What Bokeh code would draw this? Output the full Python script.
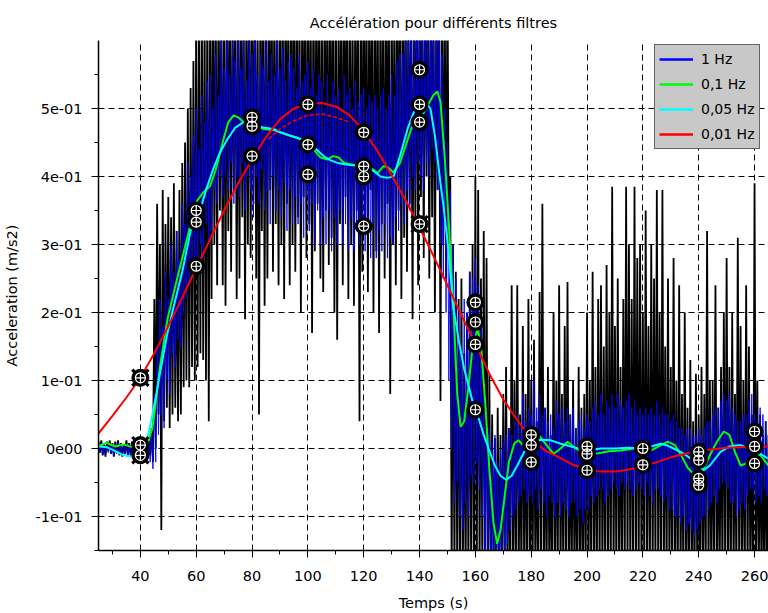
from bokeh.plotting import figure
from bokeh.models import FixedTicker, Range1d
from bokeh.embed import file_html
from bokeh.resources import INLINE

FONT = "DejaVu Sans"

# ---- raw signal and 1 Hz filtered signal, two samples per second from t=25 s ----
t_raw = [25 + 0.5 * i for i in range(481)]
raw = [
    0.010, -0.006, 0.012, -0.010, 0.006, -0.012, 0.010, -0.004, 0.012, -0.008,
    0.008, -0.012, 0.010, -0.006, 0.012, -0.010, 0.008, -0.012, 0.006, -0.008,
    0.012, -0.010, 0.008, -0.012, 0.010, -0.006, 0.012, -0.010, 0.008, -0.012,
    0.010, -0.008, 0.012, -0.010, 0.006, -0.014, 0.012, -0.010, 0.030, -0.020,
    0.22, 0.00, 0.36, 0.05, 0.30, -0.12, 0.38, 0.04, 0.33, 0.06,
    0.37, 0.03, 0.34, 0.05, 0.39, 0.06, 0.32, 0.04, 0.38, 0.05,
    0.42, 0.09, 0.45, 0.10, 0.50, 0.09, 0.53, 0.12, 0.57, 0.10,
    0.66, 0.12, 0.62, 0.14, 0.68, 0.13, 0.65, 0.10, 0.70, 0.04,
    0.68, 0.22, 0.72, 0.30, 0.66, 0.24, 0.70, 0.35, 0.66, 0.24,
    0.70, 0.21, 0.68, 0.32, 0.72, 0.26, 0.66, 0.38, 0.70, 0.22,
    0.68, 0.25, 0.72, 0.34, 0.66, 0.19, 0.70, 0.30, 0.72, 0.28,
    0.68, 0.36, 0.70, 0.25, 0.66, 0.05, 0.72, 0.32, 0.69, 0.21,
    0.70, 0.25, 0.66, 0.38, 0.72, 0.26, 0.68, 0.33, 0.65, 0.24,
    0.70, 0.30, 0.68, 0.22, 0.72, 0.36, 0.66, 0.24, 0.70, 0.30,
    0.72, 0.26, 0.68, 0.34, 0.66, 0.20, 0.70, 0.37, 0.68, 0.28,
    0.70, 0.33, 0.68, 0.17, 0.72, 0.29, 0.66, 0.36, 0.71, 0.25,
    0.66, 0.23, 0.70, 0.35, 0.68, 0.27, 0.72, 0.31, 0.68, 0.20,
    0.70, 0.16, 0.66, 0.33, 0.72, 0.24, 0.69, 0.37, 0.70, 0.22,
    0.68, 0.30, 0.66, 0.21, 0.70, 0.35, 0.68, 0.04, 0.70, 0.26,
    0.72, 0.32, 0.68, 0.23, 0.70, 0.38, 0.66, 0.20, 0.72, 0.29,
    0.69, 0.17, 0.70, 0.33, 0.66, 0.25, 0.70, 0.36, 0.68, 0.08,
    0.70, 0.30, 0.66, 0.24, 0.72, 0.35, 0.68, 0.22, 0.70, 0.31,
    0.71, 0.26, 0.68, 0.36, 0.66, 0.19, 0.70, 0.33, 0.72, 0.24,
    0.72, 0.37, 0.68, 0.28, 0.70, 0.40, 0.69, 0.25, 0.72, 0.34,
    0.70, 0.20, 0.68, 0.38, 0.72, 0.07, 0.66, 0.30, 0.71, 0.25,
    0.70, 0.30, 0.40, -0.20, 0.30, -0.20, 0.26, -0.20, 0.22, -0.20,
    0.25, -0.20, 0.14, -0.20, 0.20, -0.20, 0.26, -0.20, 0.30, -0.20,
    0.40, -0.20, 0.38, -0.20, 0.25, -0.20, 0.32, -0.20, 0.28, -0.20,
    0.11, -0.20, 0.05, -0.20, 0.015, -0.20, 0.06, -0.20, 0.02, -0.20,
    0.08, -0.20, 0.12, -0.20, 0.03, -0.20, 0.24, -0.20, 0.10, -0.20,
    0.24, -0.20, 0.05, -0.20, 0.18, -0.20, 0.08, -0.20, 0.22, -0.20,
    0.10, -0.20, 0.16, -0.20, 0.04, -0.20, 0.23, -0.20, 0.36, -0.20,
    0.06, -0.20, 0.12, -0.20, 0.02, -0.20, 0.20, -0.20, 0.10, -0.20,
    0.24, -0.20, 0.08, -0.20, 0.18, -0.20, 0.245, -0.20, 0.05, -0.20,
    0.10, -0.20, 0.03, -0.20, 0.12, -0.20, 0.06, -0.20, 0.08, -0.20,
    0.20, -0.20, 0.10, -0.20, 0.26, -0.20, 0.12, -0.20, 0.22, -0.20,
    0.24, -0.20, 0.15, -0.20, 0.27, -0.20, 0.20, -0.20, 0.385, -0.20,
    0.18, -0.20, 0.25, -0.20, 0.12, -0.20, 0.22, -0.20, 0.385, -0.20,
    0.30, -0.20, 0.22, -0.20, 0.385, -0.20, 0.28, -0.20, 0.30, -0.20,
    0.20, -0.20, 0.35, -0.20, 0.18, -0.20, 0.30, -0.20, 0.25, -0.20,
    0.38, -0.20, 0.20, -0.20, 0.38, -0.20, 0.15, -0.20, 0.25, -0.20,
    0.12, -0.20, 0.28, -0.20, 0.10, -0.20, 0.24, -0.20, 0.08, -0.20,
    0.20, -0.20, 0.06, -0.20, 0.13, -0.20, 0.04, -0.20, 0.11, -0.20,
    0.05, -0.20, 0.12, -0.20, 0.08, -0.20, 0.32, -0.20, 0.10, -0.20,
    0.10, -0.20, 0.24, -0.20, 0.06, -0.20, 0.12, -0.20, 0.20, -0.20,
    0.28, -0.20, 0.12, -0.20, 0.20, -0.20, 0.08, -0.20, 0.31, -0.20,
    0.18, -0.20, 0.10, -0.20, 0.24, -0.20, 0.15, -0.20, 0.05, -0.20,
    0.39, -0.20, 0.10, -0.20, 0.05, -0.20, 0.02, -0.20, 0.04, -0.20,
    0.02,
]
f_1hz = [
    0.005, -0.006, 0.008, -0.008, 0.004, -0.010, 0.006, -0.006, 0.008, -0.008,
    0.006, -0.010, 0.004, -0.008, 0.008, -0.006, 0.005, -0.010, 0.006, -0.008,
    0.004, -0.012, 0.006, -0.010, 0.008, -0.008, 0.005, -0.012, 0.006, -0.010,
    0.008, -0.010, 0.006, -0.012, 0.010, -0.010, 0.012, -0.020, 0.020, -0.030,
    0.08, -0.02, 0.15, 0.02, 0.22, 0.05, 0.18, 0.03, 0.26, 0.10,
    0.22, 0.08, 0.30, 0.14, 0.26, 0.12, 0.32, 0.16, 0.28, 0.15,
    0.36, 0.20, 0.33, 0.22, 0.42, 0.24, 0.40, 0.26, 0.46, 0.27,
    0.50, 0.26, 0.44, 0.30, 0.52, 0.28, 0.48, 0.33, 0.54, 0.30,
    0.55, 0.32, 0.50, 0.38, 0.58, 0.36, 0.52, 0.40, 0.60, 0.37,
    0.56, 0.40, 0.62, 0.38, 0.55, 0.42, 0.60, 0.36, 0.57, 0.40,
    0.62, 0.37, 0.56, 0.42, 0.60, 0.35, 0.54, 0.40, 0.60, 0.38,
    0.58, 0.34, 0.61, 0.40, 0.55, 0.36, 0.58, 0.41, 0.56, 0.35,
    0.60, 0.38, 0.54, 0.33, 0.58, 0.40, 0.55, 0.35, 0.60, 0.38,
    0.56, 0.34, 0.59, 0.39, 0.54, 0.32, 0.57, 0.38, 0.58, 0.33,
    0.56, 0.37, 0.53, 0.33, 0.58, 0.36, 0.54, 0.31, 0.55, 0.37,
    0.57, 0.32, 0.53, 0.36, 0.56, 0.30, 0.52, 0.35, 0.55, 0.30,
    0.54, 0.34, 0.50, 0.30, 0.55, 0.35, 0.51, 0.29, 0.54, 0.34,
    0.52, 0.30, 0.53, 0.35, 0.50, 0.30, 0.55, 0.33, 0.52, 0.29,
    0.53, 0.34, 0.50, 0.29, 0.54, 0.33, 0.51, 0.30, 0.52, 0.34,
    0.53, 0.29, 0.50, 0.33, 0.52, 0.28, 0.51, 0.33, 0.52, 0.28,
    0.50, 0.32, 0.52, 0.29, 0.53, 0.33, 0.50, 0.28, 0.52, 0.31,
    0.55, 0.30, 0.52, 0.34, 0.57, 0.32, 0.58, 0.36, 0.58, 0.33,
    0.60, 0.38, 0.62, 0.35, 0.62, 0.40, 0.60, 0.38, 0.63, 0.42,
    0.62, 0.40, 0.64, 0.38, 0.62, 0.42, 0.63, 0.40, 0.62, 0.44,
    0.62, 0.42, 0.64, 0.38, 0.60, 0.30, 0.58, 0.25, 0.50, 0.20,
    0.45, 0.10, 0.38, 0.00, 0.30, -0.08, 0.25, -0.05, 0.20, -0.10,
    0.15, -0.12, 0.22, -0.08, 0.20, -0.10, 0.26, -0.04, 0.25, -0.05,
    0.28, -0.02, 0.24, -0.06, 0.18, -0.10, 0.10, -0.15, 0.06, -0.16,
    0.03, -0.16, 0.01, -0.18, 0.02, -0.17, -0.02, -0.18, 0.00, -0.16,
    0.01, -0.15, 0.02, -0.14, 0.03, -0.12, 0.02, -0.10, 0.04, -0.09,
    0.05, -0.08, 0.03, -0.07, 0.08, -0.06, 0.04, -0.08, 0.06, -0.07,
    0.05, -0.08, 0.10, -0.06, 0.06, -0.09, 0.08, -0.06, 0.05, -0.08,
    0.06, -0.10, 0.04, -0.07, 0.05, -0.08, 0.03, -0.10, 0.07, -0.08,
    0.05, -0.10, 0.06, -0.08, 0.04, -0.09, 0.06, -0.10, 0.05, -0.08,
    0.06, -0.08, 0.03, -0.10, 0.04, -0.09, 0.05, -0.11, 0.03, -0.09,
    0.05, -0.09, 0.04, -0.07, 0.06, -0.08, 0.07, -0.07, 0.05, -0.06,
    0.08, -0.06, 0.05, -0.08, 0.07, -0.07, 0.06, -0.06, 0.08, -0.05,
    0.06, -0.06, 0.08, -0.07, 0.07, -0.05, 0.06, -0.06, 0.07, -0.05,
    0.08, -0.06, 0.06, -0.07, 0.07, -0.06, 0.05, -0.05, 0.06, -0.06,
    0.05, -0.07, 0.06, -0.05, 0.05, -0.07, 0.06, -0.08, 0.05, -0.06,
    0.07, -0.06, 0.05, -0.07, 0.06, -0.08, 0.05, -0.07, 0.05, -0.09,
    0.04, -0.09, 0.05, -0.10, 0.04, -0.10, 0.03, -0.11, 0.03, -0.10,
    0.02, -0.12, 0.03, -0.11, 0.03, -0.12, 0.02, -0.13, 0.02, -0.12,
    0.03, -0.11, 0.02, -0.10, 0.03, -0.10, 0.04, -0.09, 0.04, -0.08,
    0.05, -0.07, 0.06, -0.08, 0.06, -0.06, 0.07, -0.05, 0.08, -0.05,
    0.07, -0.06, 0.08, -0.08, 0.06, -0.08, 0.05, -0.10, 0.04, -0.09,
    0.04, -0.08, 0.05, -0.09, 0.05, -0.07, 0.07, -0.06, 0.08, -0.06,
    0.05, -0.08, 0.04, -0.07, 0.06, -0.08, 0.05, -0.06, 0.04, -0.07,
    0.03,
]
assert len(raw) == len(t_raw) and len(f_1hz) == len(t_raw)

# ---- 0.1 Hz filter ----
t_01 = [25, 28, 31, 34, 37, 40, 42.5, 44.3, 45.4, 47, 49.7, 52, 55, 58, 60.4, 62.6, 65, 67,
        69.8, 71.5, 73.4, 75, 77, 80, 84, 88, 92, 96, 100, 102, 104.5, 107, 109, 111, 113,
        115.3, 118, 120, 122.5, 125, 127, 128.5, 130.7, 133, 135, 137, 139, 141, 143, 145,
        146.4, 147.5, 149, 150.5, 152.2, 153.5, 154.7, 156, 157.5, 159, 160.8, 162, 163.5,
        165, 166.5, 167.8, 169, 170.5, 172, 174, 175.5, 177, 179, 181, 183, 185.5, 188,
        190.5, 193, 196, 200, 204, 208, 212, 216.8, 219.5, 222.8, 226, 228.9, 231.5, 234,
        236, 238, 240, 241.8, 244, 246.5, 249, 251, 253, 255, 257, 259.7, 262, 265]
v_01 = [0.004, 0.008, 0.003, 0.006, 0.002, 0.005, 0.007, 0.030, 0.063, 0.120, 0.190, 0.230,
        0.280, 0.330, 0.365, 0.377, 0.386, 0.410, 0.455, 0.480, 0.490, 0.487, 0.480, 0.476,
        0.470, 0.468, 0.462, 0.457, 0.450, 0.440, 0.428, 0.425, 0.430, 0.428, 0.420, 0.418,
        0.416, 0.415, 0.413, 0.405, 0.415, 0.414, 0.406, 0.420, 0.445, 0.470, 0.485, 0.490,
        0.505, 0.520, 0.525, 0.510, 0.430, 0.330, 0.200, 0.080, 0.032, 0.040, 0.090, 0.150,
        0.176, 0.150, 0.070, -0.030, -0.110, -0.140, -0.120, -0.070, -0.020, 0.008, 0.012,
        0.005, 0.012, 0.020, 0.018, 0.005, -0.008, 0.000, 0.010, 0.000, -0.008, -0.007,
        -0.004, -0.003, 0.000, -0.001, -0.003, 0.004, 0.010, 0.005, -0.012, -0.028, -0.037,
        -0.036, -0.030, -0.010, 0.010, 0.025, 0.020, -0.005, -0.025, -0.022, -0.008, -0.010,
        -0.025]

# ---- 0.05 Hz filter ----
t_005 = [25, 28, 31, 34, 37.5, 39.5, 41, 42.8, 44.3, 45.4, 47, 49.7, 52, 55, 58, 61.5, 63.5,
         66, 68.5, 71.2, 74, 77, 80, 84, 87.7, 90.2, 93.8, 97, 100, 103, 105.6, 108, 110.6,
         115, 120, 123, 126, 128.5, 130.7, 133, 135.7, 138, 140.4, 142, 143.9, 145.5, 147.5,
         148.6, 150.4, 152, 154, 156, 159, 161.2, 163, 164.7, 167, 169, 171, 173, 175, 177.5,
         180, 183.4, 187, 190.6, 195, 200, 205, 210, 215, 220, 223, 226.4, 229, 231, 234,
         238, 241.8, 244, 247.8, 251, 255, 259.7, 262, 265]
v_005 = [0.003, 0.002, -0.004, -0.010, -0.012, -0.005, 0.000, 0.020, 0.050, 0.073, 0.110,
         0.170, 0.210, 0.260, 0.320, 0.352, 0.380, 0.410, 0.435, 0.455, 0.472, 0.480, 0.477,
         0.472, 0.470, 0.465, 0.460, 0.456, 0.452, 0.440, 0.430, 0.424, 0.420, 0.417, 0.415,
         0.410, 0.400, 0.398, 0.400, 0.430, 0.470, 0.495, 0.510, 0.510, 0.500, 0.460, 0.390,
         0.356, 0.290, 0.210, 0.160, 0.117, 0.069, 0.044, 0.020, 0.000, -0.025, -0.040,
         -0.046, -0.040, -0.025, -0.005, 0.010, 0.013, 0.012, 0.007, 0.002, -0.003, 0.000,
         0.000, 0.001, 0.000, 0.003, 0.007, 0.004, 0.000, -0.006, -0.017, -0.032, -0.025,
         -0.005, 0.003, 0.005, -0.003, -0.008, -0.015]

# ---- 0.01 Hz filter ----
t_001 = [25, 30, 35, 40, 45, 50, 55, 60, 65, 70, 75, 80, 85, 90, 95, 100, 105, 110, 115,
         120, 125, 130, 135, 140, 145, 150, 155, 160, 165, 170, 175, 180, 185, 190, 195, 200,
         205, 210, 215, 220, 225, 230, 235, 240, 245, 250, 255, 260, 265]
v_001 = [0.022, 0.048, 0.075, 0.104, 0.140, 0.180, 0.222, 0.265, 0.308, 0.350, 0.390, 0.425,
         0.458, 0.484, 0.500, 0.507, 0.508, 0.503, 0.490, 0.467, 0.437, 0.402, 0.365, 0.325,
         0.283, 0.240, 0.196, 0.154, 0.110, 0.072, 0.042, 0.014, -0.003, -0.013, -0.024,
         -0.031, -0.034, -0.034, -0.031, -0.026, -0.020, -0.013, -0.008, -0.004, -0.001,
         0.001, 0.002, 0.003, 0.003]
# secondary (dashed) 0.01 Hz trace near the peak
t_001b = [86, 90, 95, 100, 105, 110, 115]
v_001b = [0.455, 0.470, 0.482, 0.490, 0.492, 0.487, 0.480]

# ---- sampled points every 20 s ----
mk_t = [40, 40, 40, 60, 60, 60, 80, 80, 80, 100, 100, 100, 120, 120, 120, 120,
        140, 140, 140, 140, 160, 160, 160, 160, 180, 180, 180, 200, 200, 200, 220, 220,
        240, 240, 240, 240, 260, 260, 260]
mk_v = [0.104, 0.005, -0.010, 0.350, 0.333, 0.268, 0.487, 0.474, 0.430, 0.506, 0.447, 0.403,
        0.465, 0.415, 0.400, 0.327, 0.557, 0.506, 0.480, 0.330, 0.215, 0.186, 0.153, 0.057,
        0.020, 0.005, -0.020, 0.003, -0.008, -0.032, 0.000, -0.024, -0.005, -0.017, -0.044,
        -0.054, 0.025, 0.003, -0.022]
xm_t = [40, 40, 40, 140]
xm_v = [0.104, 0.005, -0.010, 0.330]

x_ticks = [40, 60, 80, 100, 120, 140, 160, 180, 200, 220, 240, 260]
x_minor = [30, 50, 70, 90, 110, 130, 150, 170, 190, 210, 230, 250]
y_ticks = [-0.1, 0.0, 0.1, 0.2, 0.3, 0.4, 0.5]
y_minor = [-0.15, -0.05, 0.05, 0.15, 0.25, 0.35, 0.45, 0.55]
y_labels = ["-1e-01", "0e00", "1e-01", "2e-01", "3e-01", "4e-01", "5e-01"]

p = figure(width=768, height=613, output_backend="svg", toolbar_location=None,
           x_range=Range1d(25, 265), y_range=Range1d(-0.15, 0.6),
           title="Accélération pour différents filtres",
           min_border_left=98, min_border_right=0, min_border_top=40, min_border_bottom=60)
p.outline_line_color = None
p.background_fill_color = "white"
p.title.align = "center"
p.title.text_font = FONT
p.title.text_font_size = "14.5px"
p.title.text_font_style = "normal"
p.title.text_color = "black"
p.title.standoff = 20

p.xaxis.ticker = FixedTicker(ticks=x_ticks, minor_ticks=x_minor)
p.yaxis.ticker = FixedTicker(ticks=y_ticks, minor_ticks=y_minor)
p.yaxis.major_label_overrides = {k: v for k, v in zip(y_ticks, y_labels)}
p.xaxis.axis_label = "Temps (s)"
p.yaxis.axis_label = "Acceleration (m/s2)"
for ax in (p.xaxis, p.yaxis):
    ax.axis_line_color = "black"
    ax.axis_line_width = 1.5
    ax.major_tick_line_color = "black"
    ax.minor_tick_line_color = "black"
    ax.major_tick_in = 0
    ax.major_tick_out = 7
    ax.minor_tick_in = 0
    ax.minor_tick_out = 4
    ax.major_label_text_font = FONT
    ax.major_label_text_font_size = "14.5px"
    ax.major_label_text_color = "black"
    ax.axis_label_text_font = FONT
    ax.axis_label_text_font_size = "14.5px"
    ax.axis_label_text_font_style = "normal"
    ax.axis_label_text_color = "black"
p.xaxis.major_label_standoff = 13
p.xaxis.axis_label_standoff = 11
p.yaxis.major_label_standoff = 9
p.yaxis.axis_label_standoff = 12

for g in (p.xgrid, p.ygrid):
    g.grid_line_color = "black"
    g.grid_line_dash = "6 4"
    g.grid_line_width = 1
    g.grid_line_alpha = 1

p.line(t_raw, raw, line_color="black", line_width=1.8)
p.line(t_raw, f_1hz, line_color="#0000ff", line_width=0.9)
p.line(t_01, v_01, line_color="#00ff00", line_width=2)
p.line(t_005, v_005, line_color="#00ffff", line_width=2)
p.line(t_001, v_001, line_color="#ff0000", line_width=2)
p.line(t_001b, v_001b, line_color="#ff0000", line_width=1.5, line_dash="4 2")

p.scatter(xm_t, xm_v, marker="x", size=23, line_color="black", line_width=3)
p.scatter(mk_t, mk_v, marker="circle", size=17, fill_color="black", line_color="black")
p.scatter(mk_t, mk_v, marker="circle_cross", size=10, fill_color=None,
          line_color="white", line_width=1.2)

# legend entries: one-sample copies of each series (a single point draws no line),
# carrying the legend line style
p.line(t_raw[:1], f_1hz[:1], line_color="#0000ff", line_width=2.5, legend_label="1 Hz")
p.line(t_01[:1], v_01[:1], line_color="#00ff00", line_width=2.5, legend_label="0,1 Hz")
p.line(t_005[:1], v_005[:1], line_color="#00ffff", line_width=2.5, legend_label="0,05 Hz")
p.line(t_001[:1], v_001[:1], line_color="#ff0000", line_width=2.5, legend_label="0,01 Hz")

lg = p.legend[0]
lg.location = (556, 401)
lg.background_fill_color = "#c8c8c8"
lg.background_fill_alpha = 1
lg.border_line_color = "black"
lg.border_line_width = 1.5
lg.label_text_font = FONT
lg.label_text_font_size = "14px"
lg.label_text_color = "black"
lg.glyph_width = 34
lg.glyph_height = 20
lg.label_height = 20
lg.label_standoff = 8
lg.spacing = 5
lg.padding = 4
lg.margin = 0

open("out.html", "w").write(file_html(p, INLINE))
